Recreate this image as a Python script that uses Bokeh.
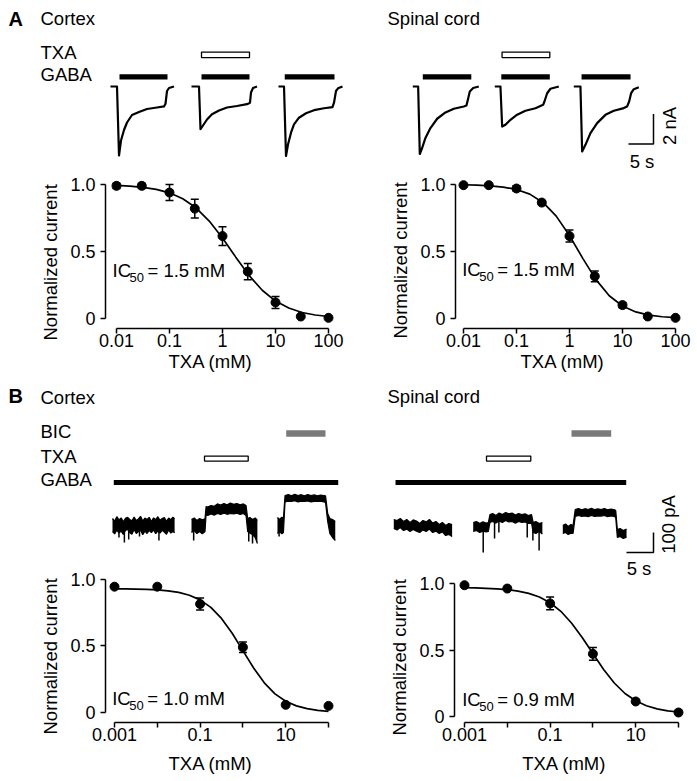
import math
from bokeh.plotting import figure
from bokeh.layouts import column, row
from bokeh.models import (Range1d, FixedTicker, Label, ColumnDataSource, Whisker,
                          TeeHead, CustomJSTickFormatter, Title)
from bokeh.embed import file_html
from bokeh.resources import INLINE
from bokeh.core.properties import value

FONT = "Liberation Sans"
FS = "18.5px"
TICK_FS = "18px"

# ======================= DATA =======================
# ---- Panel A dose-response (TXA, mM) ----
conc_A = [0.01, 0.03, 0.1, 0.3, 1, 3, 10, 30, 100]
ctxA_mean = [0.99, 0.99, 0.94, 0.82, 0.615, 0.35, 0.12, 0.015, 0.005]
ctxA_err = [0.02, 0.02, 0.06, 0.07, 0.07, 0.06, 0.045, 0.0, 0.0]
scA_mean = [0.995, 0.995, 0.97, 0.865, 0.615, 0.315, 0.10, 0.015, 0.005]
scA_err = [0.0, 0.0, 0.02, 0.015, 0.045, 0.04, 0.02, 0.0, 0.0]
fit_conc_A = [0.01, 0.0178, 0.0316, 0.0562, 0.1, 0.178, 0.316, 0.562, 1, 1.78,
              3.16, 5.62, 10, 17.8, 31.6, 56.2, 100]
ctxA_fit = [0.993, 0.988, 0.979, 0.964, 0.938, 0.894, 0.826, 0.727, 0.600, 0.458,
            0.322, 0.211, 0.130, 0.078, 0.045, 0.026, 0.015]
scA_fit = [0.998, 0.995, 0.990, 0.981, 0.963, 0.928, 0.866, 0.764, 0.619, 0.449,
           0.290, 0.170, 0.093, 0.049, 0.025, 0.013, 0.006]

# ---- Panel B dose-response ----
conc_B = [0.001, 0.01, 0.1, 1, 10, 100]
ctxB_mean = [0.945, 0.945, 0.815, 0.49, 0.058, 0.05]
ctxB_err = [0.0, 0.0, 0.045, 0.04, 0.0, 0.0]
scB_mean = [0.987, 0.962, 0.85, 0.471, 0.113, 0.03]
scB_err = [0.0, 0.0, 0.048, 0.048, 0.0, 0.0]
fit_conc_B = [0.001, 0.00178, 0.00316, 0.00562, 0.01, 0.0178, 0.0316, 0.0562, 0.1,
              0.178, 0.316, 0.562, 1, 1.78, 3.16, 5.62, 10, 17.8, 31.6, 56.2, 100]
ctxB_fit = [0.929, 0.928, 0.927, 0.925, 0.921, 0.914, 0.902, 0.881, 0.846, 0.790,
            0.707, 0.595, 0.465, 0.335, 0.223, 0.140, 0.085, 0.050, 0.029, 0.016, 0.009]
scB_fit = [0.968, 0.967, 0.964, 0.960, 0.954, 0.943, 0.926, 0.898, 0.855, 0.791,
           0.703, 0.594, 0.473, 0.354, 0.252, 0.173, 0.118, 0.081, 0.057, 0.042, 0.034]

ticks_A = [0.01, 0.1, 1, 10, 100]
ticks_B_major = [0.001, 0.1, 10]
ticks_B_minor = [0.01, 1, 100]
ticks_y = [0, 0.5, 1]
ic50_values = ["1.5", "1.5", "1.0", "0.9"]

# ---- Panel A traces: time (s) from sweep start, current (nA) ----
A_ctx_onset = [20.4, 36.6, 54.0]
A_sc_onset = [80.86, 97.26, 113.06]
A_ctx_t = [
    [0, 1.3, 1.7, 2.1, 2.7, 3.3, 4.3, 5.7, 7.3, 9.3, 10.7, 11.0, 11.3, 11.7, 12.7],
    [0, 1.5, 1.8, 2.5, 3.1, 4.1, 5.5, 7.1, 9.1, 11.1, 11.7, 11.9, 12.3, 13.1],
    [0, 1.1, 1.5, 1.9, 2.5, 3.1, 4.1, 5.5, 7.1, 9.1, 10.8, 11.1, 11.5, 11.9, 12.8],
]
A_ctx_i = [
    [0, 0, -4.6, -3.6, -2.9, -2.4, -1.9, -1.7, -1.5, -1.4, -1.33, -1.15, -0.3, -0.1, 0],
    [0, 0, -2.85, -2.5, -2.2, -1.85, -1.6, -1.4, -1.3, -1.18, -1.08, -0.4, -0.1, 0],
    [0, 0, -4.63, -3.87, -3.08, -2.52, -2.08, -1.78, -1.58, -1.45, -1.37, -1.08, -0.3, -0.12, 0],
]
A_sc_t = [
    [0, 1.07, 1.4, 1.87, 2.53, 3.53, 4.87, 6.53, 8.2, 10.2, 10.73, 11.0, 11.4, 12.07, 13.2],
    [0, 1.13, 1.47, 2.13, 3.13, 4.47, 6.13, 8.13, 9.67, 9.93, 10.47, 11.13, 12.8],
    [0, 1.33, 1.67, 2.33, 3.33, 4.67, 6.33, 8.0, 10.0, 10.67, 11.07, 11.47, 12.0, 13.0],
]
A_sc_i = [
    [0, 0, -4.5, -4.1, -3.43, -2.77, -2.15, -1.73, -1.48, -1.33, -1.27, -0.9, -0.33, -0.1, 0],
    [0, 0, -2.67, -2.55, -2.22, -1.88, -1.62, -1.45, -1.22, -1.0, -0.45, -0.15, 0],
    [0, 0, -4.33, -3.89, -3.11, -2.44, -1.89, -1.62, -1.44, -1.33, -1.0, -0.44, -0.18, -0.05],
]
# application periods (s from sweep start)
A_ctx_gaba = [(1.8, 11.4), (2.0, 11.6), (1.25, 11.2)]
A_sc_gaba = [(2.0, 11.7), (1.3, 11.0), (1.55, 11.35)]
A_ctx_txa = [(1, 2.0, 11.6)]
A_sc_txa = [(1, 1.45, 11.0)]

# ---- Panel B traces: time (s) from sweep start, current (pA) noise envelope ----
B_ctx_onset = [19.26, 33.89, 49.81]
B_sc_onset = [71.35, 86.06, 102.65]
B_ctx_t = [
    [0.0, 0.4, 0.8, 1.2, 1.6, 2.0, 2.4, 2.8, 3.2, 3.6, 4.0, 4.4, 4.8, 5.2, 5.6, 6.0, 6.4, 6.8,
     7.2, 7.6, 8.0, 8.4, 8.8, 9.2, 9.6, 10.0, 10.4, 10.8, 11.2, 11.5],
    [0.0, 0.5, 1.0, 1.5, 2.0, 2.5, 2.7, 3.0, 3.6, 4.2, 4.8, 5.4, 6.0, 6.6, 7.2, 7.8, 8.4, 9.0,
     9.6, 10.1, 10.4, 10.8, 11.3, 11.8, 12.2],
    [0.0, 0.4, 0.8, 1.1, 1.4, 2.0, 2.6, 3.2, 3.8, 4.4, 5.0, 5.6, 6.2, 6.8, 7.4, 8.0, 8.6, 8.9,
     9.3, 9.7, 10.2, 10.7],
]
B_ctx_hi = [
    [35, 22, 44, 28, 38, 18, 36, 41, 30, 24, 42, 25, 33, 46, 22, 37, 30, 41, 20, 38, 30, 44,
     26, 35, 40, 21, 37, 29, 42, 33],
    [30, 38, 25, 35, 28, 33, 95, 92, 100, 96, 108, 102, 110, 104, 112, 106, 110, 103, 108, 100,
     35, 40, 30, 38, 25],
    [40, 30, 42, 35, 150, 155, 148, 156, 150, 154, 148, 155, 150, 153, 148, 152, 150, 148, 60,
     35, 30, 20],
]
B_ctx_lo = [
    [-30, -42, -22, -38, -28, -45, -25, -20, -36, -44, -20, -40, -30, -24, -46, -28, -40, -25,
     -35, -22, -41, -28, -38, -24, -33, -44, -22, -38, -30, -36],
    [-35, -25, -40, -30, -42, -30, 55, 50, 58, 52, 60, 55, 62, 56, 60, 58, 62, 55, 60, 50,
     -30, -38, -45, -60, -90],
    [-40, -30, -42, -35, 118, 122, 120, 124, 118, 122, 120, 123, 118, 121, 120, 122, 118, 115,
     20, -40, -60, -75],
]
B_ctx_spk = [  # (sweep, t, from, to)
    (0, 1.2, 0, -60), (0, 2.2, 0, -85), (0, 3.0, 0, -70), (0, 5.0, 0, -55), (0, 8.6, 0, -75),
    (1, 0.4, 0, -75), (1, 10.6, 0, -80), (1, 11.3, 0, -90), (2, 0.3, 0, -55),
]
B_sc_t = [
    [0.0, 0.6, 1.2, 1.8, 2.4, 3.0, 3.6, 4.2, 4.8, 5.4, 6.0, 6.6, 7.2, 7.8, 8.4, 9.0, 9.6, 10.2, 10.8],
    [0.0, 0.6, 1.2, 1.8, 2.4, 2.8, 3.1, 3.6, 4.2, 4.8, 5.4, 6.0, 6.6, 7.2, 7.8, 8.4, 9.0, 9.6,
     10.2, 10.8, 11.1, 11.6, 12.2, 12.8],
    [0.0, 0.5, 1.0, 1.5, 1.9, 2.3, 2.9, 3.5, 4.1, 4.7, 5.3, 5.9, 6.5, 7.1, 7.7, 8.3, 8.9, 9.5,
     9.8, 10.1, 10.6, 11.2, 11.8],
]
B_sc_hi = [
    [30, 25, 35, 20, 30, 15, 28, 22, 10, 25, 18, 30, 12, 20, 5, 15, 0, 10, 5],
    [15, 20, 10, 18, 12, 15, 55, 60, 50, 62, 55, 65, 58, 62, 52, 60, 55, 58, 50, 55, 15, 20, 10, 15],
    [0, 8, -5, 5, 0, 80, 85, 78, 84, 80, 86, 79, 83, 80, 85, 78, 82, 80, 75, -20, -15, -25, -18],
]
B_sc_lo = [
    [-15, -22, -10, -25, -18, -30, -20, -28, -35, -22, -30, -18, -35, -28, -40, -32, -50, -45, -55],
    [-30, -25, -35, -28, -32, -30, 15, 20, 12, 22, 15, 25, 18, 20, 12, 20, 15, 18, 10, 12,
     -35, -40, -30, -42],
    [-40, -35, -45, -38, -40, 45, 50, 46, 48, 44, 50, 45, 48, 47, 50, 44, 48, 46, 40, -60, -55,
     -65, -58],
]
B_sc_spk = [
    (1, 1.85, 0, -135), (1, 3.95, 30, -65), (1, 4.75, 30, -35), (1, 10.0, 30, -60),
    (1, 11.05, 0, -75), (1, 12.2, 0, -125),
]
# application periods (s, display time)
B_ctx_gaba = (19.5, 61.06)
B_ctx_txa = (36.30, 44.39)
B_ctx_bic = (51.43, 58.70)
B_sc_gaba = (71.67, 114.39)
B_sc_txa = (88.52, 96.72)
B_sc_bic = (104.26, 111.61)

# ======================= HELPERS =======================
PAGE_W, PAGE_H = 697, 781


def blank_fig(w, h, xr, yr):
    p = figure(width=w, height=h, x_range=Range1d(*xr), y_range=Range1d(*yr),
               x_axis_type=None, y_axis_type=None, toolbar_location=None,
               output_backend="svg", min_border=0, title=None)
    p.outline_line_color = None
    return p


def txt(p, x, y, s, size=FS, bold=False, align="left", angle=0.0):
    # y is the vertical centre of the capitals
    p.text(x=[x], y=[y], text=[s], text_font=value(FONT), text_font_size=size,
           text_font_style="bold" if bold else "normal", text_align=align,
           text_baseline="middle", angle=angle, text_color="black")


# ======================= ROW 1: A traces (page y 0-176) =======================
A_TOP, A_BOT = 0, 176
def a_x(px): return (px - 8) / 5.0      # 5 px per s
def a_y(py): return (86 - py) / 15.0    # 15 px per nA
pA = blank_fig(PAGE_W, A_BOT - A_TOP, (a_x(0), a_x(PAGE_W)), (a_y(A_BOT), a_y(A_TOP)))

for onsets, ts, cs in ((A_ctx_onset, A_ctx_t, A_ctx_i), (A_sc_onset, A_sc_t, A_sc_i)):
    for on, t, c in zip(onsets, ts, cs):
        pA.line([on + v for v in t], c, line_width=2.2, color="black", line_join="round")

gl, gr = [], []
for onsets, gab in ((A_ctx_onset, A_ctx_gaba), (A_sc_onset, A_sc_gaba)):
    for on, (g0, g1) in zip(onsets, gab):
        gl.append(on + g0); gr.append(on + g1)
pA.quad(left=gl, right=gr, bottom=a_y(79.0), top=a_y(73.7), fill_color="black", line_color=None)
tl, tr = [], []
for onsets, txa in ((A_ctx_onset, A_ctx_txa), (A_sc_onset, A_sc_txa)):
    for (k, t0, t1) in txa:
        tl.append(onsets[k] + t0); tr.append(onsets[k] + t1)
pA.quad(left=tl, right=tr, bottom=a_y(57.1), top=a_y(51.6), fill_color="white",
        line_color="black", line_width=1.3)
# scale bar 2 nA / 5 s
pA.line([a_x(628), a_x(653), a_x(653)], [a_y(143.5), a_y(143.5), a_y(113.5)],
        line_width=1.5, color="black")
txt(pA, a_x(668.5), a_y(125.5), "2 nA", align="center", angle=math.pi / 2)
txt(pA, a_x(641.5), a_y(161), "5 s", align="center")
txt(pA, a_x(8), a_y(18.3), "A", size="20px", bold=True)
txt(pA, a_x(40), a_y(18), "Cortex")
txt(pA, a_x(387), a_y(18), "Spinal cord")
txt(pA, a_x(40), a_y(51.5), "TXA")
txt(pA, a_x(40), a_y(74.2), "GABA")

# ======================= ROW 3: B traces (page y 385-556) =======================
B_TOP, B_BOT = 385, 556
def b_x(px): return (px - 8) / 5.4       # 5.4 px per s
def b_y(py): return (525 - py) * 5.0     # 0.2 px per pA
pB = blank_fig(PAGE_W, B_BOT - B_TOP, (b_x(0), b_x(PAGE_W)), (b_y(B_BOT), b_y(B_TOP)))

for onsets, ts, his, los, spk in ((B_ctx_onset, B_ctx_t, B_ctx_hi, B_ctx_lo, B_ctx_spk),
                                  (B_sc_onset, B_sc_t, B_sc_hi, B_sc_lo, B_sc_spk)):
    for on, t, hi, lo in zip(onsets, ts, his, los):
        xs = [on + v for v in t]
        pB.varea(x=xs, y1=lo, y2=hi, fill_color="black")
        pB.line(xs, hi, line_width=1.2, color="black")
        pB.line(xs, lo, line_width=1.2, color="black")
    pB.segment(x0=[onsets[k] + t for (k, t, a, b) in spk], y0=[a for (k, t, a, b) in spk],
               x1=[onsets[k] + t for (k, t, a, b) in spk], y1=[b for (k, t, a, b) in spk],
               line_width=1.5, color="black")

pB.quad(left=[B_ctx_gaba[0], B_sc_gaba[0]], right=[B_ctx_gaba[1], B_sc_gaba[1]],
        bottom=b_y(484.5), top=b_y(479.5), fill_color="black", line_color=None)
pB.quad(left=[B_ctx_txa[0], B_sc_txa[0]], right=[B_ctx_txa[1], B_sc_txa[1]],
        bottom=b_y(460.6), top=b_y(455.6), fill_color="white", line_color="black", line_width=1.3)
pB.quad(left=[B_ctx_bic[0], B_sc_bic[0]], right=[B_ctx_bic[1], B_sc_bic[1]],
        bottom=b_y(436.3), top=b_y(429.7), fill_color="#7a7a7a", line_color=None)
pB.line([b_x(626), b_x(653), b_x(653)], [b_y(552), b_y(552), b_y(532)],
        line_width=1.5, color="black")
txt(pB, b_x(667.5), b_y(524), "100 pA", align="center", angle=math.pi / 2)
txt(pB, b_x(8), b_y(395.5), "B", size="20px", bold=True)
txt(pB, b_x(40), b_y(397), "Cortex")
txt(pB, b_x(387), b_y(396), "Spinal cord")
txt(pB, b_x(40), b_y(430.5), "BIC")
txt(pB, b_x(40), b_y(455.5), "TXA")
txt(pB, b_x(40), b_y(479), "GABA")


# ======================= dose-response figures =======================
def dose_fig(ox, oy, w, h, axis_x, frame_r, axis_y, x_first, x_first_px, ppd, y1_px, y0_px,
             major, minor, xbounds, ylab_start, xlab_left, xlab_standoff):
    mbl = axis_x - ox
    mbr = ox + w - frame_r
    mbb = oy + h - axis_y
    lx = math.log10(x_first)
    xs = 10 ** (lx - (x_first_px - axis_x) / ppd)
    xe = 10 ** (lx + (frame_r - x_first_px) / ppd)
    ppu = y0_px - y1_px
    ys = -(axis_y - y0_px) / ppu
    ye = 1 + (y1_px - oy) / ppu
    p = figure(width=w, height=h, x_axis_type="log", x_range=Range1d(xs, xe),
               y_range=Range1d(ys, ye), toolbar_location=None, output_backend="svg",
               min_border_left=mbl, min_border_right=mbr, min_border_top=0,
               min_border_bottom=mbb, title=None)
    p.outline_line_color = None
    p.grid.visible = False
    p.xaxis.ticker = FixedTicker(ticks=major, minor_ticks=minor)
    p.yaxis.ticker = FixedTicker(ticks=ticks_y)
    p.xaxis.formatter = CustomJSTickFormatter(code="return String(tick)")
    p.yaxis.formatter = CustomJSTickFormatter(code="return tick == 0 ? '0' : tick.toFixed(1)")
    p.xaxis.bounds = xbounds
    p.yaxis.bounds = (0, 1)
    for ax in (p.xaxis, p.yaxis):
        ax.axis_line_width = 1.5
        ax.axis_line_color = "black"
        ax.major_tick_line_width = 1.5
        ax.major_tick_line_color = "black"
        ax.major_tick_out = 5
        ax.major_tick_in = 0
        ax.minor_tick_line_width = 1.5
        ax.minor_tick_line_color = "black"
        ax.minor_tick_out = 5
        ax.minor_tick_in = 0
        ax.major_label_text_font = FONT
        ax.major_label_text_font_size = TICK_FS
        ax.major_label_text_color = "black"
    p.xaxis.major_label_standoff = 0
    p.yaxis.major_label_standoff = 5
    # axis titles as side-panel titles placed along the axis as in the figure
    p.add_layout(Title(text="Normalized current", align="left", offset=axis_y - ylab_start,
                       standoff=13, text_font=FONT, text_font_size=FS, text_font_style="normal",
                       text_color="black"), "left")
    p.add_layout(Title(text="TXA (mM)", align="left", offset=xlab_left - axis_x,
                       standoff=xlab_standoff, text_font=FONT, text_font_size=FS,
                       text_font_style="normal", text_color="black"), "below")

    def fx(px): return 10 ** (lx + (px - x_first_px) / ppd)
    def fy(py): return (y0_px - py) / ppu
    return p, fx, fy


def add_data(p, conc, mean, err, fit_c, fit_v):
    p.line(fit_c, fit_v, line_width=1.7, color="black")
    src = ColumnDataSource(dict(
        x=[c for c, e in zip(conc, err) if e > 0],
        up=[m + e for m, e in zip(mean, err) if e > 0],
        lo=[m - e for m, e in zip(mean, err) if e > 0]))
    p.add_layout(Whisker(source=src, base="x", upper="up", lower="lo", line_width=1.5,
                         line_color="black",
                         upper_head=TeeHead(size=8, line_width=1.5, line_color="black"),
                         lower_head=TeeHead(size=8, line_width=1.5, line_color="black")))
    p.scatter(conc, mean, size=9, color="black")


def lab(p, x, y, s, size=FS, align="left", xo=0, yo=0):
    # y is the vertical centre of the capitals
    p.add_layout(Label(x=x, y=y, text=s, text_font=FONT, text_font_size=size,
                       text_align=align, text_baseline="middle",
                       x_offset=xo, y_offset=yo, text_color="black"))


def ic50(p, fx, fy, ic_x, ic_y, ic):
    lab(p, fx(ic_x), fy(ic_y), "IC")
    lab(p, fx(ic_x), fy(ic_y), "50", size="13px", xo=17, yo=-7)
    lab(p, fx(ic_x), fy(ic_y), "= " + ic + " mM", xo=35)


R2_TOP, R2_H = 176, 209
R4_TOP = 556
R4_H = PAGE_H - R4_TOP

f1, fx1, fy1 = dose_fig(0, R2_TOP, 350, R2_H, 105, 345, 328, 0.01, 116, 53, 184, 318,
                        ticks_A, [], (0.01, 100), 340, 168, -2)
add_data(f1, conc_A, ctxA_mean, ctxA_err, fit_conc_A, ctxA_fit)
ic50(f1, fx1, fy1, 112, 269.5, ic50_values[0])

f2, fx2, fy2 = dose_fig(350, R2_TOP, 347, R2_H, 455, 692, 328, 0.01, 463, 53, 184, 318,
                        ticks_A, [], (0.01, 100), 338, 520, -2)
add_data(f2, conc_A, scA_mean, scA_err, fit_conc_A, scA_fit)
ic50(f2, fx2, fy2, 461.7, 269.2, ic50_values[1])

f3, fx3, fy3 = dose_fig(0, R4_TOP, 350, R4_H, 105, 345, 723, 0.001, 114, 42.8, 579, 713,
                        ticks_B_major, ticks_B_minor, (0.001, 100), 735, 168, 14)
add_data(f3, conc_B, ctxB_mean, ctxB_err, fit_conc_B, ctxB_fit)
ic50(f3, fx3, fy3, 111.7, 698.5, ic50_values[2])

f4, fx4, fy4 = dose_fig(350, R4_TOP, 347, R4_H, 454, 692, 722, 0.001, 464, 42.8, 583, 716,
                        ticks_B_major, ticks_B_minor, (0.001, 100), 735, 521.7, 14)
add_data(f4, conc_B, scB_mean, scB_err, fit_conc_B, scB_fit)
ic50(f4, fx4, fy4, 461.7, 698.7, ic50_values[3])
lab(f4, fx4(638.5), fy4(567.5), "5 s", align="center")

layout = column(pA, row(f1, f2), pB, row(f3, f4))
open("out.html", "w").write(file_html(layout, INLINE))
